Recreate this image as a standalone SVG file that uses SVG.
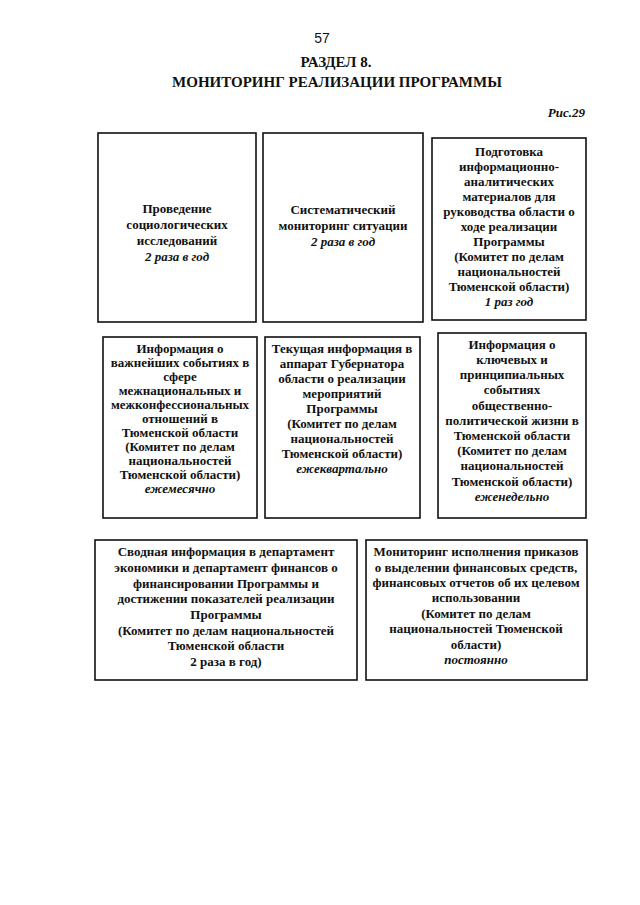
<svg xmlns="http://www.w3.org/2000/svg" width="640" height="905" viewBox="0 0 640 905">
<style>
.b{fill:#fff;stroke:#111;stroke-width:1.6}
.t{font-family:"Liberation Serif",serif;font-weight:bold;font-size:13px;fill:#111;text-anchor:middle}
.i{font-style:italic}
.h{font-family:"Liberation Serif",serif;font-weight:bold;font-size:15px;fill:#111;text-anchor:middle}
</style>
<rect width="640" height="905" fill="#fff"/>
<g id="header">
<text x="322" y="43" style="font-family:'Liberation Sans',sans-serif;font-size:14px;fill:#111;text-anchor:middle">57</text>
<text class="h" x="336" y="67">РАЗДЕЛ 8.</text>
<text class="h" x="337" y="87">МОНИТОРИНГ РЕАЛИЗАЦИИ ПРОГРАММЫ</text>
<text x="585" y="117" style="font-family:'Liberation Serif',serif;font-weight:bold;font-style:italic;font-size:13px;fill:#111;text-anchor:end">Рис.29</text>
</g>
<g id="n1">
<rect class="b" x="98" y="133" width="158" height="189"/>
<text class="t" x="177" y="213">Проведение</text>
<text class="t" x="177" y="229">социологических</text>
<text class="t" x="177" y="245">исследований</text>
<text class="t i" x="177" y="261">2 раза в год</text>
</g>
<g id="n2">
<rect class="b" x="263" y="133" width="160" height="189"/>
<text class="t" x="343" y="214">Систематический</text>
<text class="t" x="343" y="230">мониторинг ситуации</text>
<text class="t i" x="343" y="246">2 раза в год</text>
</g>
<g id="n3">
<rect class="b" x="432" y="138" width="154" height="182"/>
<text class="t" x="509" y="156">Подготовка</text>
<text class="t" x="509" y="171">информационно-</text>
<text class="t" x="509" y="186">аналитических</text>
<text class="t" x="509" y="201">материалов для</text>
<text class="t" x="509" y="216">руководства области  о</text>
<text class="t" x="509" y="231">ходе реализации</text>
<text class="t" x="509" y="246">Программы</text>
<text class="t" x="509" y="261">(Комитет по делам</text>
<text class="t" x="509" y="276">национальностей</text>
<text class="t" x="509" y="291">Тюменской области)</text>
<text class="t i" x="509" y="306">1 раз год</text>
</g>
<g id="n4">
<rect class="b" x="103" y="337" width="154" height="181"/>
<text class="t" x="180" y="353">Информация о</text>
<text class="t" x="180" y="367">важнейших событиях в</text>
<text class="t" x="180" y="381">сфере</text>
<text class="t" x="180" y="395">межнациональных и</text>
<text class="t" x="180" y="409">межконфессиональных</text>
<text class="t" x="180" y="423">отношений в</text>
<text class="t" x="180" y="437">Тюменской области</text>
<text class="t" x="180" y="451">(Комитет по делам</text>
<text class="t" x="180" y="465">национальностей</text>
<text class="t" x="180" y="479">Тюменской области)</text>
<text class="t i" x="180" y="493">ежемесячно</text>
</g>
<g id="n5">
<rect class="b" x="265" y="337" width="155" height="181"/>
<text class="t" x="342" y="353">Текущая информация в</text>
<text class="t" x="342" y="368">аппарат Губернатора</text>
<text class="t" x="342" y="383">области о реализации</text>
<text class="t" x="342" y="398">мероприятий</text>
<text class="t" x="342" y="413">Программы</text>
<text class="t" x="342" y="428">(Комитет по делам</text>
<text class="t" x="342" y="443">национальностей</text>
<text class="t" x="342" y="458">Тюменской области)</text>
<text class="t i" x="342" y="473">ежеквартально</text>
</g>
<g id="n6">
<rect class="b" x="438" y="333" width="148" height="185"/>
<text class="t" x="512" y="349">Информация о</text>
<text class="t" x="512" y="364">ключевых и</text>
<text class="t" x="512" y="379">принципиальных</text>
<text class="t" x="512" y="394">событиях</text>
<text class="t" x="512" y="410">общественно-</text>
<text class="t" x="512" y="425">политической жизни в</text>
<text class="t" x="512" y="440">Тюменской области</text>
<text class="t" x="512" y="455">(Комитет по делам</text>
<text class="t" x="512" y="470">национальностей</text>
<text class="t" x="512" y="486">Тюменской области)</text>
<text class="t i" x="512" y="501">еженедельно</text>
</g>
<g id="n7">
<rect class="b" x="95" y="540" width="262" height="140"/>
<text class="t" x="226" y="556">Сводная информация в департамент</text>
<text class="t" x="226" y="572">экономики и департамент финансов о</text>
<text class="t" x="226" y="588">финансировании Программы и</text>
<text class="t" x="226" y="603">достижении показателей реализации</text>
<text class="t" x="226" y="619">Программы</text>
<text class="t" x="226" y="635">(Комитет по делам национальностей</text>
<text class="t" x="226" y="650">Тюменской области</text>
<text class="t" x="226" y="666">2 раза в год)</text>
</g>
<g id="n8">
<rect class="b" x="366" y="540" width="221" height="140"/>
<text class="t" x="476" y="556">Мониторинг исполнения приказов</text>
<text class="t" x="476" y="572">о выделении финансовых средств,</text>
<text class="t" x="476" y="587">финансовых отчетов об их целевом</text>
<text class="t" x="476" y="602">использовании</text>
<text class="t" x="476" y="618">(Комитет по делам</text>
<text class="t" x="476" y="633">национальностей Тюменской</text>
<text class="t" x="476" y="649">области)</text>
<text class="t i" x="476" y="664">постоянно</text>
</g>
<g id="connectors"/>
</svg>
